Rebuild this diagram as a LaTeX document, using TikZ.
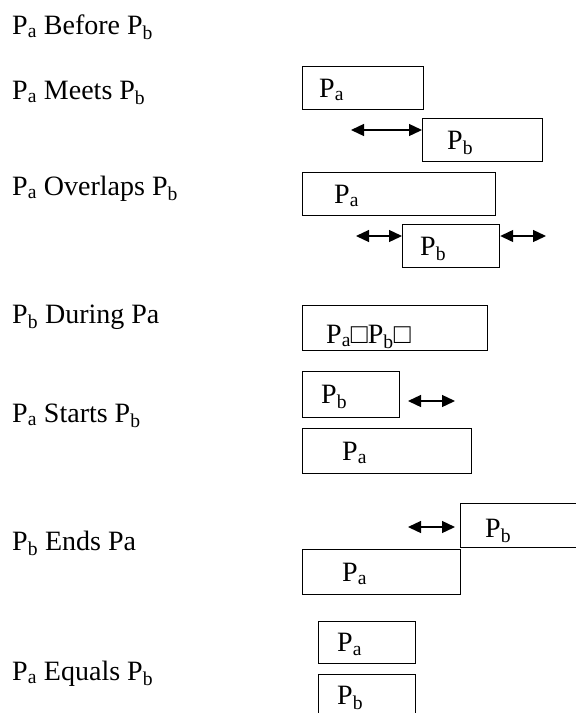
\documentclass[tikz,border=0pt]{standalone}
\usepackage{fontspec}
\setmainfont{Liberation Serif}
\usetikzlibrary{arrows.meta,positioning,calc}
\newcommand{\PerA}{P\textsubscript{a}}
\newcommand{\PerB}{P\textsubscript{b}}

\begin{document}
\begin{tikzpicture}[x=1pt, y=-1pt,
    every node/.style={font=\fontsize{28}{33}\selectfont},
    relation/.style={anchor=base west, inner sep=0pt},
    interval/.style={draw, line width=1.2pt, anchor=north west, minimum height=43pt, inner sep=0pt},
    tag/.style={anchor=west, inner sep=0pt, text height=19pt, text depth=1pt},
    span/.style={line width=1.3pt, {Triangle[length=13pt,width=12pt]}-{Triangle[length=13pt,width=12pt]}}]
    \useasboundingbox (0,0) rectangle (576,713);
    \clip (0,0) rectangle (576,713);

    % Relation names
    \node[relation] (before)   at (12,34)  {\PerA{} Before \PerB};
    \node[relation] (meets)    at (12,99)  {\PerA{} Meets \PerB};
    \node[relation] (overlaps) at (12,195) {\PerA{} Overlaps \PerB};
    \node[relation] (during)   at (12,323) {\PerB{} During Pa};
    \node[relation] (starts)   at (12,422) {\PerA{} Starts \PerB};
    \node[relation] (ends)     at (12,550) {\PerB{} Ends Pa};
    \node[relation] (equals)   at (12,680) {\PerA{} Equals \PerB};

    % Meets
    \node[interval, minimum width=121pt] (meetsA) at (302,66) {};
    \node[tag, right=17pt of meetsA.west] (meetsAtag) {\PerA};
    \node[interval, minimum width=120pt] (meetsB) at (422,118) {};
    \node[tag, right=25pt of meetsB.west] (meetsBtag) {\PerB};
    \coordinate (meetsL) at (351,130);
    \draw[span] (meetsL) -- (meetsL -| meetsB.west);

    % Overlaps
    \node[interval, minimum width=193pt] (overlapsA) at (302,172) {};
    \node[tag, right=32pt of overlapsA.west] (overlapsAtag) {\PerA};
    \node[interval, minimum width=97pt] (overlapsB) at (402,224) {};
    \node[tag, right=18pt of overlapsB.west] (overlapsBtag) {\PerB};
    \coordinate (overlapsL) at (356,236);
    \coordinate (overlapsR) at (546,236);
    \draw[span] (overlapsL) -- (overlapsL -| overlapsB.west);
    \draw[span] (overlapsR -| overlapsB.east) -- (overlapsR);

    % During
    \node[interval, minimum width=185pt, minimum height=45pt] (duringA) at (302,305) {};
    \node[tag, right=24pt of duringA.west, yshift=-6pt] (duringtag) {\PerA□\PerB□};

    % Starts
    \node[interval, minimum width=97pt, minimum height=46pt] (startsB) at (302,371) {};
    \node[tag, right=19pt of startsB.west] (startsBtag) {\PerB};
    \coordinate (startsL) at (408,401);
    \coordinate (startsR) at (455,401);
    \draw[span] (startsL) -- (startsR);
    \node[interval, minimum width=169pt, minimum height=45pt] (startsA) at (302,428) {};
    \node[tag, right=40pt of startsA.west] (startsAtag) {\PerA};

    % Ends
    \node[interval, minimum width=140pt, minimum height=44pt] (endsB) at (460,503) {};
    \node[tag, right=25pt of endsB.west, yshift=-3pt] (endsBtag) {\PerB};
    \coordinate (endsL) at (408,527);
    \coordinate (endsR) at (455,527);
    \draw[span] (endsL) -- (endsR);
    \node[interval, minimum width=158pt, minimum height=45pt] (endsA) at (302,549) {};
    \node[tag, right=40pt of endsA.west] (endsAtag) {\PerA};

    % Equals
    \node[interval, minimum width=97pt, minimum height=42pt] (equalsA) at (318,621) {};
    \node[tag, right=19pt of equalsA.west] (equalsAtag) {\PerA};
    \node[interval, minimum width=97pt, minimum height=42pt] (equalsB) at (318,674) {};
    \node[tag, right=19pt of equalsB.west] (equalsBtag) {\PerB};
\end{tikzpicture}
\end{document}
